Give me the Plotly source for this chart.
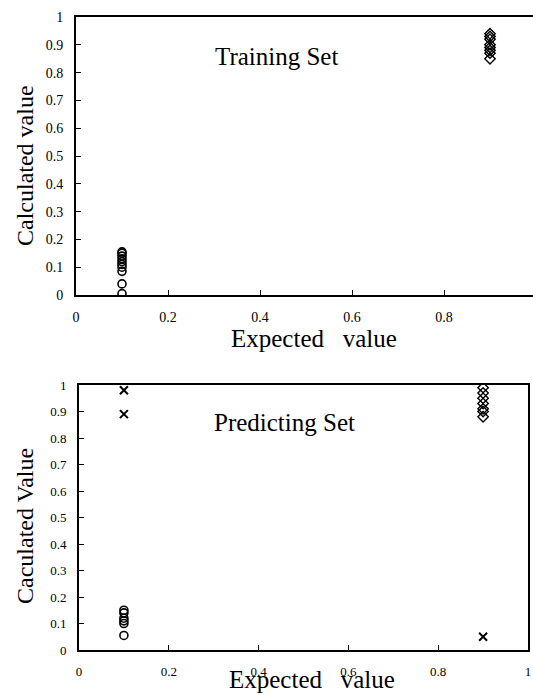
import plotly.graph_objects as go

# ---- Data ----
train_x_low = [0.1] * 10
train_y_low = [0.005, 0.04, 0.085, 0.10, 0.11, 0.12, 0.13, 0.14, 0.15, 0.155]
train_x_high = [0.9] * 8
train_y_high = [0.85, 0.87, 0.88, 0.89, 0.90, 0.92, 0.93, 0.94]

pred_x_low_c = [0.1] * 6
pred_y_low_c = [0.055, 0.10, 0.11, 0.12, 0.14, 0.15]
pred_x_low_x = [0.1, 0.1]
pred_y_low_x = [0.98, 0.89]
pred_x_high_d = [0.9] * 7
pred_y_high_d = [0.88, 0.90, 0.91, 0.93, 0.95, 0.97, 0.99]
pred_x_high_x = [0.9]
pred_y_high_x = [0.05]

x_ticks_top = [0, 0.2, 0.4, 0.6, 0.8]
x_ticks_bot = [0, 0.2, 0.4, 0.6, 0.8, 1]
y_ticks = [0, 0.1, 0.2, 0.3, 0.4, 0.5, 0.6, 0.7, 0.8, 0.9, 1]

SERIF = "Liberation Serif, Times New Roman, serif"

fig = go.Figure()

circ = dict(symbol="circle-open", size=8, color="black", line=dict(width=1.6, color="black"))
diam = dict(symbol="diamond-open", size=8, color="black", line=dict(width=1.4, color="black"))
cross = dict(symbol="x-thin", size=8, color="black", line=dict(width=2, color="black"))

fig.add_trace(go.Scatter(x=train_x_low, y=train_y_low, mode="markers", marker=circ, xaxis="x", yaxis="y"))
fig.add_trace(go.Scatter(x=train_x_high, y=train_y_high, mode="markers", marker=diam, xaxis="x", yaxis="y"))

fig.add_trace(go.Scatter(x=pred_x_low_c, y=pred_y_low_c, mode="markers", marker=circ, xaxis="x2", yaxis="y2"))
fig.add_trace(go.Scatter(x=pred_x_low_x, y=pred_y_low_x, mode="markers", marker=cross, xaxis="x2", yaxis="y2"))
fig.add_trace(go.Scatter(x=pred_x_high_d, y=pred_y_high_d, mode="markers", marker=diam, xaxis="x2", yaxis="y2"))
fig.add_trace(go.Scatter(x=pred_x_high_x, y=pred_y_high_x, mode="markers", marker=cross, xaxis="x2", yaxis="y2"))

W, H = 533, 695

def px_x(p):
    return p / W

def px_y(p):
    return 1 - p / H

axis_common = dict(
    showgrid=False, zeroline=False, showline=True, linecolor="black", linewidth=2,
    ticks="inside", ticklen=5, tickwidth=1.2, tickcolor="black", automargin=False,
    tickfont=dict(family=SERIF, size=14, color="black"),
)

fig.update_layout(
    width=W, height=H,
    margin=dict(l=0, r=0, t=0, b=0, autoexpand=False),
    paper_bgcolor="white", plot_bgcolor="white",
    showlegend=False,
    xaxis=dict(axis_common, domain=[px_x(76), 1.0], range=[0, 457 / 460],
               tickvals=x_ticks_top, anchor="y", mirror=True, ticklabelstandoff=8),
    yaxis=dict(axis_common, domain=[px_y(295), px_y(17)], range=[0, 1],
               tickvals=y_ticks, anchor="x", ticklabelstandoff=8),
    xaxis2=dict(axis_common, domain=[px_x(79), px_x(528)], range=[0, 1],
                tickvals=x_ticks_bot, anchor="y2", mirror=True, ticklabelstandoff=8,
                tickfont=dict(family=SERIF, size=13, color="black")),
    yaxis2=dict(axis_common, domain=[px_y(650), px_y(385)], range=[0, 1],
                tickvals=y_ticks, anchor="x2", mirror=True, ticklabelstandoff=8,
                tickfont=dict(family=SERIF, size=13, color="black")),
)


def note(text, xp, yp, size=22, angle=0):
    fig.add_annotation(text=text, x=px_x(xp), y=px_y(yp), xref="paper", yref="paper",
                       xanchor="center", yanchor="middle", showarrow=False, textangle=angle,
                       font=dict(family=SERIF, size=size, color="black"))

note("Training Set", 276, 57, 25)
note("Predicting Set", 284, 422, 25)
note("Expected&nbsp;&nbsp;&nbsp;value", 314, 338, 25)
note("Expected&nbsp;&nbsp;&nbsp;value", 312, 679, 25)
note("Calculated value", 25, 166, 24, angle=-90)
note("Caculated Value", 25, 526, 24, angle=-90)

fig.write_html("out.html", config={"displayModeBar": False},
               post_script="document.body.style.margin='0';document.body.style.overflow='hidden';")
